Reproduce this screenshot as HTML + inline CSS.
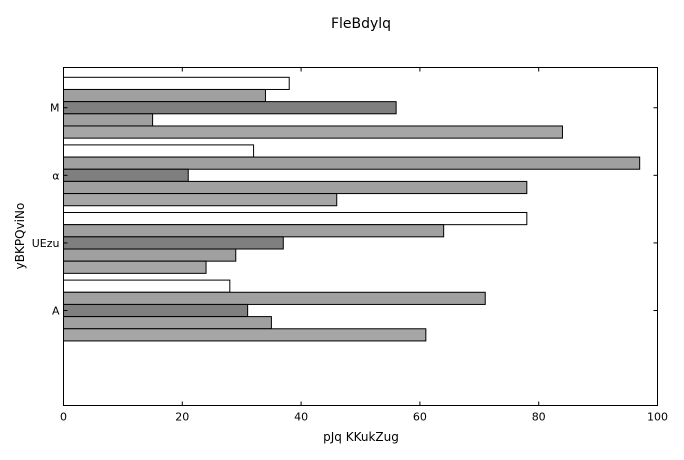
<!DOCTYPE html>
<html><head><meta charset="utf-8"><style>
body{margin:0;background:#fff;font-family:"DejaVu Sans","Liberation Sans",sans-serif;}
svg text{font-family:"DejaVu Sans","Liberation Sans",sans-serif;fill:#000}
</style></head><body>
<svg id="c" width="684" height="456" xmlns="http://www.w3.org/2000/svg">
<text x="361" y="28" font-size="14" text-anchor="middle">FleBdylq</text>
<text x="361" y="441" font-size="12" text-anchor="middle">pJq KKukZug</text>
<text transform="translate(24,236) rotate(-90)" font-size="12" text-anchor="middle">yBKPQviNo</text>
<g id="bars"></g>
<rect x="63.5" y="67.5" width="594" height="338" fill="none" stroke="#000" stroke-width="1"/>
<g id="axes"></g>
</svg>
<script>
const categories=["A","UEzu","α","M"];
const s1=[28,78,32,38];
const s2=[71,64,97,34];
const s3=[31,37,21,56];
const s4=[35,29,78,15];
const s5=[61,24,46,84];
const xTicks=[0,20,40,60,80,100];
const series=[s1,s2,s3,s4,s5];
const colors=["#ffffff","#a0a0a0","#7f7f7f","#a0a0a0","#a6a6a6"];
const L=63.5,R=657.5,T=67.5,B=405.5;
const xs=v=>L+(R-L)*v/100;
const ys=v=>B-(B-T)*(v+1.405)/5;
const bh=(B-T)*0.18/5;
const NS="http://www.w3.org/2000/svg";
const bars=document.getElementById("bars"),axes=document.getElementById("axes");
categories.forEach((c,i)=>{
  const top=ys(i)-2.5*bh;
  series.forEach((s,j)=>{
    const r=document.createElementNS(NS,"rect");
    r.setAttribute("x",xs(0));r.setAttribute("y",top+j*bh);
    r.setAttribute("width",xs(s[i])-xs(0));r.setAttribute("height",bh);
    r.setAttribute("fill",colors[j]);r.setAttribute("stroke","#000");r.setAttribute("stroke-width","1");
    
    
    bars.appendChild(r);
  });
  const y=ys(i);
  const t=document.createElementNS(NS,"text");
  t.setAttribute("x",L-4);t.setAttribute("y",y+4);t.setAttribute("font-size","11");t.setAttribute("text-anchor","end");
  t.textContent=c;
  
  
  axes.appendChild(t);
  [[L,L+4],[R,R-4]].forEach(p=>{
    const l=document.createElementNS(NS,"line");
    l.setAttribute("x1",p[0]);l.setAttribute("x2",p[1]);l.setAttribute("y1",y);l.setAttribute("y2",y);l.setAttribute("stroke","#000");
    
    
    axes.appendChild(l);
  });
});
xTicks.forEach(v=>{
  const x=xs(v);
  [[B,B-4],[T,T+4]].forEach(p=>{
    const l=document.createElementNS(NS,"line");
    l.setAttribute("x1",x);l.setAttribute("x2",x);l.setAttribute("y1",p[0]);l.setAttribute("y2",p[1]);l.setAttribute("stroke","#000");
    
    
    axes.appendChild(l);
  });
  const t=document.createElementNS(NS,"text");
  t.setAttribute("x",x);t.setAttribute("y",B+15);t.setAttribute("font-size","11");t.setAttribute("text-anchor","middle");
  t.textContent=v;
  
  
  axes.appendChild(t);
});
</script>
</body></html>
